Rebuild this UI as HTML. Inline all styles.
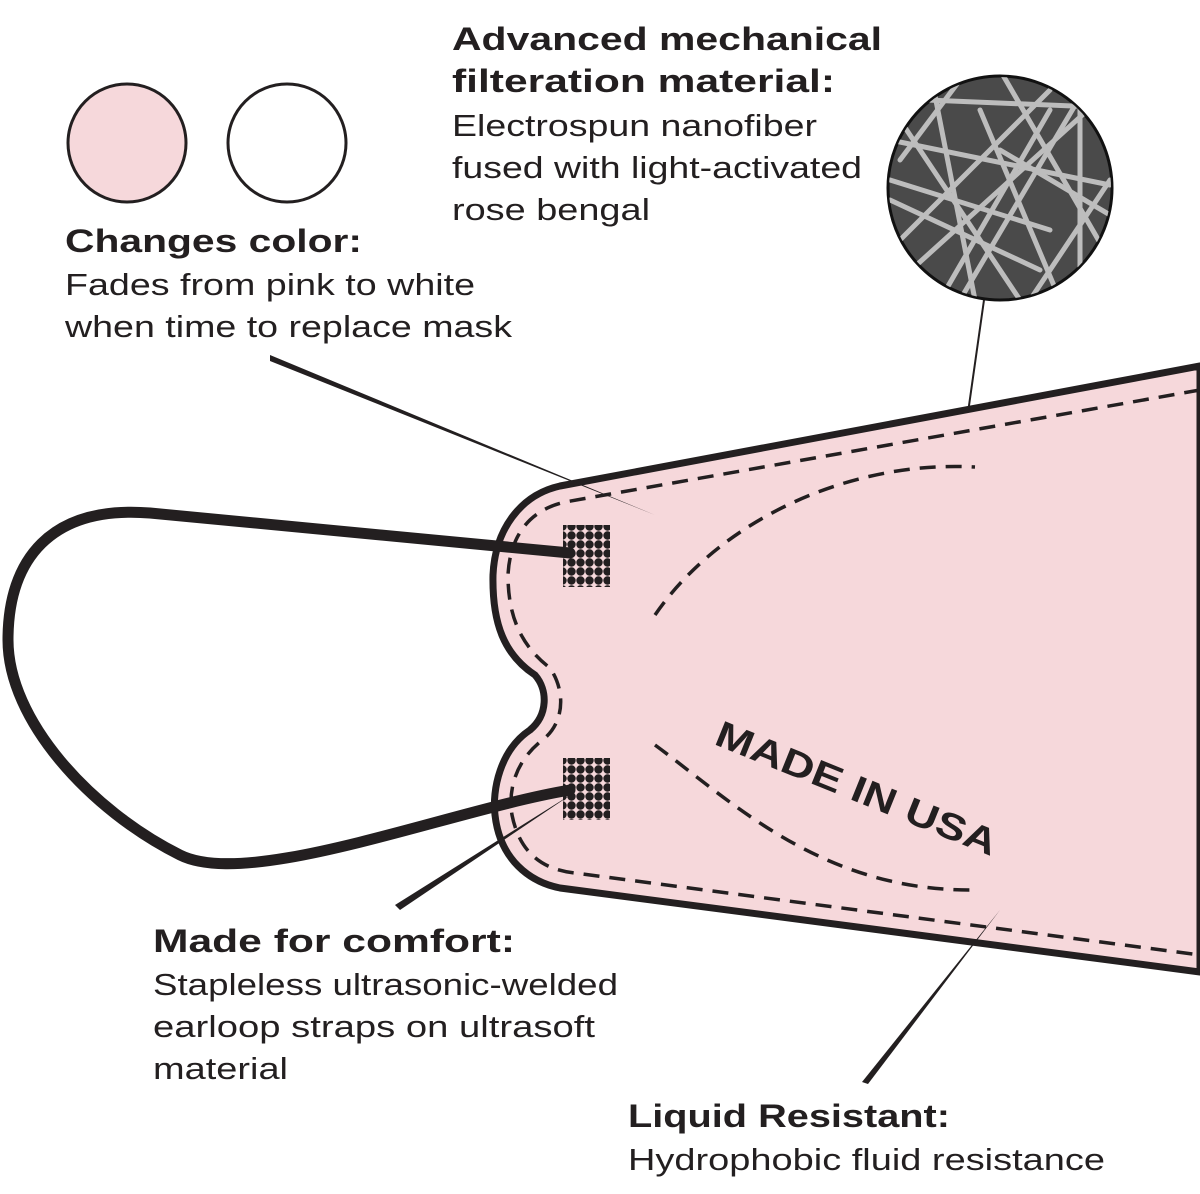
<!DOCTYPE html>
<html><head><meta charset="utf-8"><style>
html,body{margin:0;padding:0;background:#fff;}
svg{display:block}
text{font-family:"Liberation Sans",sans-serif;fill:#231f20}
.h{font-weight:bold;font-size:32px}
.b{font-size:31px}
</style></head><body>
<svg width="1200" height="1194" viewBox="0 0 1200 1194" xmlns="http://www.w3.org/2000/svg">
<defs>
<clipPath id="cc"><circle cx="1000" cy="188" r="111"/></clipPath>
<pattern id="dots" width="9" height="9" patternUnits="userSpaceOnUse"><rect width="9" height="9" fill="#f6d8db"/><circle cx="4.5" cy="4.5" r="4.2" fill="#231f20"/></pattern>
</defs>
<circle cx="127" cy="143" r="59" fill="#f6d8db" stroke="#231f20" stroke-width="3"/>
<circle cx="287" cy="143" r="59" fill="#fff" stroke="#231f20" stroke-width="3"/>
<circle cx="1000" cy="188" r="112" fill="#4a4a4a" stroke="#111" stroke-width="3"/>
<g clip-path="url(#cc)" stroke="#bdbdbd" stroke-width="5" stroke-linecap="round">
<line x1="880" y1="98" x2="1120" y2="108"/><line x1="890" y1="140" x2="1110" y2="185"/>
<line x1="900" y1="240" x2="1050" y2="90"/><line x1="890" y1="200" x2="1040" y2="270"/>
<line x1="930" y1="70" x2="975" y2="300"/><line x1="960" y1="300" x2="1090" y2="80"/>
<line x1="1080" y1="100" x2="1080" y2="290"/><line x1="1000" y1="70" x2="1110" y2="260"/>
<line x1="900" y1="280" x2="1110" y2="90"/><line x1="940" y1="300" x2="1050" y2="110"/>
<line x1="890" y1="180" x2="1050" y2="230"/><line x1="980" y1="110" x2="1060" y2="300"/>
<line x1="900" y1="120" x2="1020" y2="300"/><line x1="1030" y1="300" x2="1110" y2="180"/>
<line x1="1000" y1="150" x2="1110" y2="215"/><line x1="900" y1="160" x2="960" y2="80"/>
</g>
<line x1="984" y1="300" x2="957" y2="490" stroke="#231f20" stroke-width="2"/>
<path d="M1200 366 L560 486 C520 495 495 530 493 575 C492 625 505 655 535 675 C548 690 548 715 530 730 C500 750 492 790 495 815 C500 860 530 882 560 888 L1200 972 Z" fill="#f6d8db" stroke="#231f20" stroke-width="7" stroke-linejoin="round"/>
<path d="M1200 390 L565 502 C530 510 510 535 508 575 C508 615 520 645 550 668 C565 690 565 720 545 738 C515 760 508 790 512 815 C520 855 545 870 575 873 L1200 955" fill="none" stroke="#231f20" stroke-width="3.5" stroke-dasharray="16 10"/>
<path d="M655 615 C720 520 850 460 975 467" fill="none" stroke="#231f20" stroke-width="3.5" stroke-dasharray="16 10"/>
<path d="M655 745 C730 800 820 890 970 890" fill="none" stroke="#231f20" stroke-width="3.5" stroke-dasharray="16 10"/>
<rect x="563" y="525" width="47" height="62" fill="url(#dots)"/>
<rect x="563" y="758" width="47" height="62" fill="url(#dots)"/>
<path d="M570 553 L150 513 C50 505 8 560 8 640 C8 720 90 810 180 855 C250 890 450 810 570 790" fill="none" stroke="#231f20" stroke-width="11" stroke-linecap="round"/>
<path d="M270 355 L655 515 L270 361 Z" fill="#231f20"/>
<path d="M395 905 L575 792 L400 910 Z" fill="#231f20"/>
<path d="M862 1082 L1000 910 L868 1084 Z" fill="#231f20"/>
<text x="852" y="800" transform="rotate(22 852 800)" text-anchor="middle" textLength="300" lengthAdjust="spacingAndGlyphs" style="font-weight:bold;font-size:37px">MADE IN USA</text>
<g lengthAdjust="spacingAndGlyphs">
<text class="h" x="452" y="50" textLength="430" lengthAdjust="spacingAndGlyphs">Advanced mechanical</text>
<text class="h" x="452" y="92" textLength="383" lengthAdjust="spacingAndGlyphs">filteration material:</text>
<text class="b" x="452" y="136" textLength="365" lengthAdjust="spacingAndGlyphs">Electrospun nanofiber</text>
<text class="b" x="452" y="178" textLength="410" lengthAdjust="spacingAndGlyphs">fused with light-activated</text>
<text class="b" x="452" y="220" textLength="198" lengthAdjust="spacingAndGlyphs">rose bengal</text>
<text class="h" x="65" y="252" textLength="297" lengthAdjust="spacingAndGlyphs">Changes color:</text>
<text class="b" x="65" y="295" textLength="410" lengthAdjust="spacingAndGlyphs">Fades from pink to white</text>
<text class="b" x="65" y="337" textLength="447" lengthAdjust="spacingAndGlyphs">when time to replace mask</text>
<text class="h" x="153" y="952" textLength="362" lengthAdjust="spacingAndGlyphs">Made for comfort:</text>
<text class="b" x="153" y="995" textLength="465" lengthAdjust="spacingAndGlyphs">Stapleless ultrasonic-welded</text>
<text class="b" x="153" y="1037" textLength="442" lengthAdjust="spacingAndGlyphs">earloop straps on ultrasoft</text>
<text class="b" x="153" y="1079" textLength="135" lengthAdjust="spacingAndGlyphs">material</text>
<text class="h" x="628" y="1127" textLength="322" lengthAdjust="spacingAndGlyphs">Liquid Resistant:</text>
<text class="b" x="628" y="1170" textLength="477" lengthAdjust="spacingAndGlyphs">Hydrophobic fluid resistance</text>
</g>
</svg>
</body></html>
